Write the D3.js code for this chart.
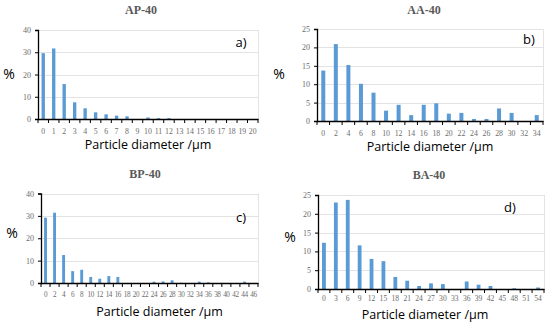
<!DOCTYPE html>
<html><head><meta charset="utf-8">
<script src="https://cdn.jsdelivr.net/npm/d3@7"></script>
<style>body{margin:0;background:#fff}svg{display:block}</style>
</head><body>
<svg id="c" width="550" height="327"></svg>
<script>
// ---- data ----
const catsA = d3.range(0, 21, 1).map(String);
const valsA = [29.6, 31.7, 15.7, 7.5, 4.8, 3.0, 2.1, 1.5, 1.2, 0, 0.7, 0.4, 0.4, 0, 0, 0, 0, 0, 0, 0, 0];
const catsB = d3.range(0, 36, 2).map(String);
const valsB = [13.7, 20.9, 15.2, 10.1, 7.7, 2.8, 4.4, 1.6, 4.4, 4.8, 2.0, 2.2, 0.55, 0.55, 3.4, 2.2, 0, 1.6];
const catsC = d3.range(0, 48, 2).map(String);
const valsC = [29.2, 31.4, 12.5, 5.3, 5.9, 2.7, 1.9, 3.1, 2.7, 0, 0, 0, 0.6, 0.7, 1.2, 0.1, 0, 0.6, 0.3, 0, 0, 0, 0.6, 0];
const catsD = d3.range(0, 57, 3).map(String);
const valsD = [12.3, 23.0, 23.7, 11.6, 8.0, 7.4, 3.2, 2.2, 0.8, 1.5, 1.3, 0, 2.0, 1.15, 0.8, 0, 0.2, 0, 0.4];
const titles = ["AP-40", "AA-40", "BP-40", "BA-40"];
const letters = ["a)", "b)", "c)", "d)"];
const yMax = [40, 25, 40, 25];
const yStep = [10, 5, 10, 5];
const xTitle = "Particle diameter /µm";
const yTitle = "%";

// ---- layout ----
const panels = [
  {cats: catsA, vals: valsA, x0: 38, x1: 258, y0: 30, y1: 119, tx: 141, ty: 14, px: 9, py: 79, lx: 241, ly: 47, xtY: 149, fs: 7.8, ls: 0, tp: 9},
  {cats: catsB, vals: valsB, x0: 317, x1: 543, y0: 29, y1: 121, tx: 424, ty: 14, px: 279, py: 79, lx: 529, ly: 44, xtY: 151, fs: 7.8, ls: 0, tp: 9},
  {cats: catsC, vals: valsC, x0: 41, x1: 258, y0: 193.5, y1: 283, tx: 145, ty: 178, px: 12, py: 238, lx: 241, ly: 222, xtY: 316, fs: 7.2, ls: -0.4, tp: 9},
  {cats: catsD, vals: valsD, x0: 318, x1: 544, y0: 195, y1: 289, tx: 429, ty: 179, px: 290, py: 242, lx: 510, ly: 212, xtY: 319, fs: 7.6, ls: 0, tp: 7}
];

const svg = d3.select("#c");
const blue = "#5B9BD5";
const serif = "'Liberation Serif', 'DejaVu Serif', serif";
const sans = "'Open Sans', 'Liberation Sans', sans-serif";

panels.forEach((p, i) => {
  const g = svg.append("g");
  const x = d3.scaleBand().domain(p.cats).range([p.x0, p.x1]).paddingInner(0.68).paddingOuter(0.34);
  const y = d3.scaleLinear().domain([0, yMax[i]]).range([p.y1, p.y0]);
  const ticks = d3.range(0, yMax[i] + 0.001, yStep[i]);

  // gridlines
  g.selectAll(".grid").data(ticks.filter(t => t > 0)).join("line")
    .attr("x1", p.x0).attr("x2", p.x1)
    .attr("y1", d => Math.round(y(d)) + 0.5).attr("y2", d => Math.round(y(d)) + 0.5)
    .attr("stroke", "#e3e3e3").attr("stroke-width", 1);
  // right border
  g.append("line").attr("x1", p.x1 + 0.5).attr("x2", p.x1 + 0.5).attr("y1", y(yMax[i])).attr("y2", p.y1)
    .attr("stroke", "#e3e3e3");

  // bars
  g.selectAll(".bar").data(p.cats.map((c, k) => ({c, v: p.vals[k]}))).join("rect")
    .attr("x", d => x(d.c)).attr("width", x.bandwidth())
    .attr("y", d => y(d.v)).attr("height", d => y(0) - y(d.v))
    .attr("fill", blue);

  // y axis
  const ya = d3.axisLeft(y).tickValues(ticks).tickSize(3).tickPadding(4);
  const yg = g.append("g").attr("transform", `translate(${p.x0},0)`).call(ya);
  yg.select(".domain").attr("stroke", "#000").attr("stroke-width", 1.3);
  yg.selectAll(".tick line").attr("stroke", "#000");
  yg.selectAll("text").attr("font-family", serif).attr("font-size", 8).attr("fill", "#6b6b6b");

  // x axis
  const xa = d3.axisBottom(x).tickSize(0).tickPadding(p.tp);
  const xg = g.append("g").attr("transform", `translate(0,${p.y1})`).call(xa);
  xg.select(".domain").attr("stroke", "#000").attr("stroke-width", 1.6);
  xg.selectAll("text").attr("font-family", serif).attr("font-size", p.fs)
    .attr("letter-spacing", p.ls).attr("fill", "#6b6b6b");
  // tick marks between categories
  const step = x.step();
  const bounds = p.cats.map(c => x(c) - step * x.paddingInner() / 2).concat([p.x1]);
  xg.selectAll(".bt").data(bounds).join("line")
    .attr("x1", d => d).attr("x2", d => d).attr("y1", 0).attr("y2", 4)
    .attr("stroke", "#000").attr("stroke-width", 1);

  // texts
  g.append("text").attr("x", p.tx).attr("y", p.ty).attr("text-anchor", "middle")
    .attr("font-family", serif).attr("font-weight", "bold").attr("font-size", 12).attr("fill", "#595959").text(titles[i]);
  g.append("text").attr("x", p.px).attr("y", p.py).attr("text-anchor", "middle")
    .attr("font-family", sans).attr("font-size", 14).attr("fill", "#000").text(yTitle);
  g.append("text").attr("x", p.lx).attr("y", p.ly).attr("text-anchor", "middle")
    .attr("font-family", sans).attr("font-size", 13).attr("fill", "#000").text(letters[i]);
  g.append("text").attr("x", (p.x0 + p.x1) / 2 + (i === 2 ? 10 : (i === 3 ? -6 : 0)))
    .attr("y", p.xtY).attr("text-anchor", "middle")
    .attr("font-family", sans).attr("font-size", 12.5).attr("fill", "#000").text(xTitle);
});
</script>
</body></html>
